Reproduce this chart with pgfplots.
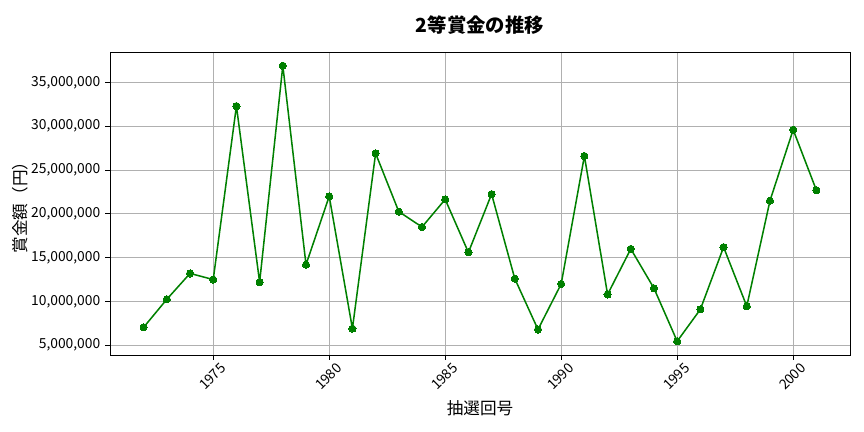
\documentclass[border=0pt]{standalone}
\usepackage{pgfplots}
\pgfplotsset{compat=1.18}
\usepackage{fontspec}
\setmainfont{Noto Sans CJK JP}

\definecolor{mplgreen}{RGB}{0,128,0}
\definecolor{gridgray}{RGB}{176,176,176}

\pgfplotstableread{
year prize
1972 7050000
1973 10250000
1974 13200000
1975 12500000
1976 32300000
1977 12200000
1978 36900000
1979 14200000
1980 22000000
1981 6900000
1982 26900000
1983 20250000
1984 18500000
1985 21650000
1986 15600000
1987 22250000
1988 12600000
1989 6800000
1990 12000000
1991 26600000
1992 10800000
1993 16000000
1994 11500000
1995 5460000
1996 9100000
1997 16200000
1998 9450000
1999 21500000
2000 29600000
2001 22700000
}\prizedata

\begin{document}
\begin{tikzpicture}
\useasboundingbox (-1.10in,-0.77in) rectangle (7.54in,3.55in);
\begin{axis}[
  at={(0,0)}, anchor=south west,
  scale only axis,
  width=7.40in, height=3.03in,
  xmin=1970.55, xmax=2002.45,
  ymin=3890000, ymax=38470000,
  xtick={1975,1980,1985,1990,1995,2000},
  ytick={5000000,10000000,15000000,20000000,25000000,30000000,35000000},
  scaled y ticks=false,
  xtick pos=bottom, ytick pos=left,
  tick align=outside,
  major tick length=3.5pt,
  tick style={black, line width=0.6pt},
  axis line style={line width=0.6pt},
  grid=major,
  major grid style={gridgray, line width=0.6pt},
  /pgf/number format/assume math mode=true,
  ticklabel style={font=\fontsize{10}{12}\selectfont},
  xticklabel style={/pgf/number format/1000 sep={}, yshift=-0.168in, xshift=-0.008in, anchor=center, rotate=45},
  yticklabel style={/pgf/number format/fixed, /pgf/number format/1000 sep={,}},
  title={\bfseries 2等賞金の推移},
  title style={font=\fontsize{14}{16}\selectfont, at={(axis description cs:0.5,1.06)}, anchor=center},
  xlabel={抽選回号},
  xlabel style={font=\fontsize{12}{14}\selectfont, at={(axis description cs:0.5,-0.175)}, anchor=center},
  ylabel={賞金額（円）},
  ylabel style={font=\fontsize{12}{14}\selectfont, at={(axis description cs:-0.1216,0.5)}, anchor=center},
]
\addplot[mplgreen, line width=1.1pt, line join=round, mark=*, mark size=2.6pt, mark options={fill=mplgreen, draw=mplgreen, line width=0pt}] table[x=year, y=prize] {\prizedata};
\end{axis}
\end{tikzpicture}
\end{document}
